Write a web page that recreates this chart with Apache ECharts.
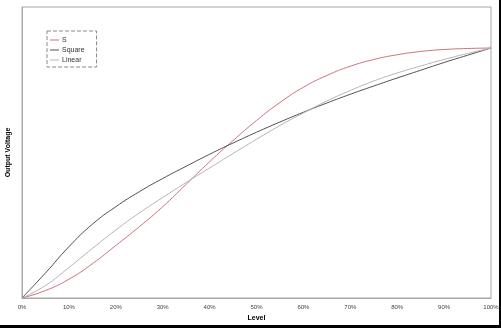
<!DOCTYPE html>
<html><head><meta charset="utf-8">
<script src="https://cdn.jsdelivr.net/npm/echarts@6/dist/echarts.min.js"></script>
<style>html,body{margin:0;padding:0;background:#fff}#c{width:501px;height:328px}</style>
</head><body><div id="c"></div>
<script>
const levels = [0,5,10,15,20,25,30,35,40,45,50,55,60,65,70,75,80,85,90,95,100];
const sValues = [0,0.03,0.075,0.137,0.21,0.285,0.365,0.455,0.545,0.63,0.71,0.782,0.843,0.89,0.927,0.954,0.973,0.986,0.994,0.998,1];
const squareValues = [0,0.10,0.205,0.295,0.365,0.425,0.478,0.527,0.575,0.62,0.663,0.704,0.743,0.78,0.815,0.848,0.88,0.911,0.942,0.971,1];
const linearValues = [0,0.05,0.122,0.198,0.272,0.34,0.402,0.462,0.52,0.578,0.635,0.69,0.74,0.788,0.83,0.868,0.9,0.928,0.954,0.978,1];
const seriesNames = ['S','Square','Linear'];

const chart = echarts.init(document.getElementById('c'), null, {renderer:'canvas'});
const mk = (name, vals, color) => ({
  name, type:'line', data: levels.map((l,i)=>[l, vals[i]]),
  smooth: true, showSymbol:false, symbol:'none',
  lineStyle:{color, width:1}, itemStyle:{color}, silent:true, animation:false
});
chart.setOption({
  animation:false,
  grid:{left:22, right:10, top:7, bottom:30, containLabel:false, outerBoundsMode:'none',
    show:true, borderColor:'#a8a8a8', borderWidth:1, backgroundColor:'#fff'},
  xAxis:{type:'value', min:0, max:100, interval:10,
    name:'Level', nameLocation:'middle', nameGap:16,
    nameTextStyle:{fontFamily:'Liberation Sans, Arial', fontSize:7, fontWeight:'bold', color:'#000'},
    axisLine:{show:true, lineStyle:{color:'#a8a8a8'}}, axisTick:{show:false}, splitLine:{show:false},
    axisLabel:{formatter:'{value}%', fontFamily:'Liberation Sans, Arial', fontSize:6, color:'#444', margin:6}},
  yAxis:{type:'value', min:0, max:1.164,
    name:'Output Voltage', nameLocation:'middle', nameGap:10, nameRotate:90,
    nameTextStyle:{fontFamily:'Liberation Sans, Arial', fontSize:7, fontWeight:'bold', color:'#000'},
    axisLine:{show:true, lineStyle:{color:'#a8a8a8'}}, axisTick:{show:false}, splitLine:{show:false},
    axisLabel:{show:false}},
  legend:{orient:'vertical', left:47, top:31, data:seriesNames, icon:'rect', itemWidth:9, itemHeight:1,
    itemGap:2, padding:[5,12,3,3], borderColor:'#888', borderWidth:1, borderType:'dashed',
    textStyle:{fontFamily:'Liberation Sans, Arial', fontSize:7, lineHeight:8, color:'#333', padding:[0,0,0,-2]}},
  graphic:[
    {type:'rect', shape:{x:499, y:0, width:2, height:328}, style:{fill:'#000'}, silent:true},
    {type:'rect', shape:{x:0, y:325, width:501, height:3}, style:{fill:'#000'}, silent:true}
  ],
  series:[
    mk('S', sValues, '#d0707c'),
    mk('Square', squareValues, '#505050'),
    mk('Linear', linearValues, '#b4b4b4')
  ]
});
</script></body></html>
